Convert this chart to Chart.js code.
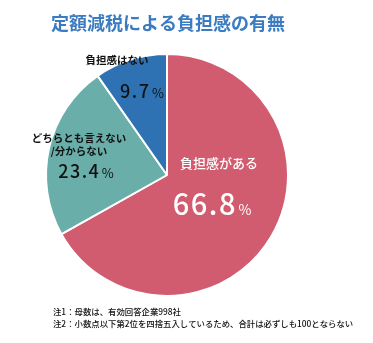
<!DOCTYPE html>
<html lang="ja">
<head>
<meta charset="utf-8">
<script src="https://cdn.jsdelivr.net/npm/chart.js@4/dist/chart.umd.min.js"></script>
<style>
  html, body { margin: 0; padding: 0; background: #fff; }
  #wrap { position: relative; width: 373px; height: 343px; }
</style>
</head>
<body>
<div id="wrap"><canvas id="pie" width="373" height="343"></canvas></div>
<script>
// 回答区分と割合(%)
const categories = ['負担感がある', 'どちらとも言えない/分からない', '負担感はない'];
const shares = [66.8, 23.4, 9.7];
const sliceColors = ['#d15b6f', '#69aea9', '#2f72b4'];

const titleText = '定額減税による負担感の有無';
const notes = [
    '注1：母数は、有効回答企業998社',
    '注2：小数点以下第2位を四捨五入しているため、合計は必ずしも100とならない'
];

const FONT = '"Noto Sans CJK JP", "Noto Sans", sans-serif';

// ラベル配置（名称行と数値の位置）
const labelSpots = [
    { lines: ['負担感がある'], lx: 219, ly: 163, nameSize: 13, numX: 212, numY: 205, numSize: 29, pctSize: 14, color: '#ffffff' },
    { lines: ['どちらとも言えない', '/分からない'], lx: 79, ly: 138, nameSize: 10.5, numX: 86, numY: 172, numSize: 18, pctSize: 13, color: '#111111' },
    { lines: ['負担感はない'], lx: 117, ly: 60, nameSize: 10.5, numX: 142, numY: 92, numSize: 18, pctSize: 13, color: '#111111' }
];

function drawValue(ctx, spot, value) {
    const num = value.toFixed(1);
    ctx.font = '500 ' + spot.numSize + 'px ' + FONT;
    const numW = ctx.measureText(num).width + (num.length - 1) * 1.5;
    ctx.font = spot.pctSize + 'px ' + FONT;
    const pctW = ctx.measureText('%').width;
    let x = spot.numX - (numW + 3 + pctW) / 2;
    ctx.textAlign = 'left';
    ctx.textBaseline = 'alphabetic';
    ctx.font = '500 ' + spot.numSize + 'px ' + FONT;
    const base = spot.numY + spot.numSize * 0.36;
    for (const ch of num) {
        ctx.fillText(ch, x, base);
        x += ctx.measureText(ch).width + 1.5;
    }
    ctx.font = spot.pctSize + 'px ' + FONT;
    ctx.fillText('%', x + 1.5, base);
}

const textPlugin = {
    id: 'pieText',
    afterDraw(chart) {
        const ctx = chart.ctx;
        ctx.save();

        // タイトル
        ctx.fillStyle = '#3b7bc0';
        ctx.font = 'bold 18px ' + FONT;
        ctx.textAlign = 'center';
        ctx.textBaseline = 'middle';
        ctx.fillText(titleText, 168, 23);

        // 区分名と割合
        const values = chart.data.datasets[0].data;
        labelSpots.forEach((spot, i) => {
            ctx.fillStyle = spot.color;
            ctx.textAlign = 'center';
            ctx.textBaseline = 'middle';
            ctx.font = (i === 0 ? '500 ' : 'bold ') + spot.nameSize + 'px ' + FONT;
            spot.lines.forEach((line, j) => {
                ctx.fillText(line, spot.lx, spot.ly + j * 13);
            });
            drawValue(ctx, spot, values[i]);
        });

        // 注記
        ctx.fillStyle = '#111111';
        ctx.font = '500 8.4px ' + FONT;
        ctx.textAlign = 'left';
        ctx.textBaseline = 'middle';
        notes.forEach((n, i) => ctx.fillText(n, 53, 312 + i * 11.5));

        ctx.restore();
    }
};

new Chart(document.getElementById('pie'), {
    type: 'pie',
    data: {
        labels: categories,
        datasets: [{
            data: shares,
            backgroundColor: sliceColors,
            borderColor: '#ffffff',
            borderWidth: 2
        }]
    },
    options: {
        responsive: false,
        animation: false,
        layout: { padding: { left: 45, right: 84, top: 53, bottom: 46 } },
        plugins: {
            legend: { display: false },
            tooltip: { enabled: false }
        }
    },
    plugins: [textPlugin]
});
</script>
</body>
</html>
